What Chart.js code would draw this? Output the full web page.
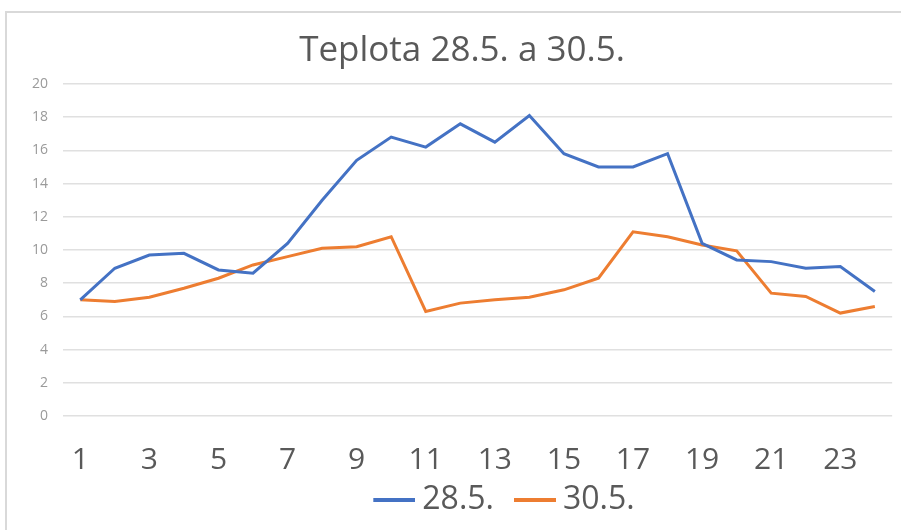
<!DOCTYPE html>
<html>
<head>
<meta charset="utf-8">
<script src="https://cdn.jsdelivr.net/npm/chart.js@4.4.1/dist/chart.umd.min.js"></script>
<style>
  html, body { margin: 0; padding: 0; background: #fff; }
  #wrap { position: relative; width: 901px; height: 530px; overflow: hidden; }
  #frame {
    position: absolute; left: 5px; top: 11px; width: 920px; height: 560px;
    border-top: 2px solid #d9d9d9; border-left: 2px solid #d9d9d9;
  }
  canvas { position: absolute; left: 0; top: 0; }
</style>
</head>
<body>
<div id="wrap">
  <div id="frame"></div>
  <canvas id="teplotaChart" width="901" height="530"></canvas>
</div>
<script>
  // hodiny 1..24
  const hours = [
    "1", "2", "3", "4", "5", "6", "7", "8", "9", "10", "11", "12",
    "13", "14", "15", "16", "17", "18", "19", "20", "21", "22", "23", "24",
  ];

  // teplota 28.5.
  const temp285 = [
    7.0, 8.9, 9.7, 9.8, 8.8, 8.6, 10.4, 13.0, 15.4, 16.8, 16.2, 17.6,
    16.5, 18.1, 15.8, 15.0, 15.0, 15.8, 10.4, 9.4, 9.3, 8.9, 9.0, 7.5,
  ];

  // teplota 30.5.
  const temp305 = [
    7.0, 6.9, 7.15, 7.7, 8.3, 9.1, 9.6, 10.1, 10.2, 10.8, 6.3, 6.8,
    7.0, 7.15, 7.6, 8.3, 11.1, 10.8, 10.3, 9.95, 7.4, 7.2, 6.2, 6.6,
  ];

  const yTicks = [0, 2, 4, 6, 8, 10, 12, 14, 16, 18, 20];

  const ctx = document.getElementById("teplotaChart").getContext("2d");
  const font = "'Open Sans', 'Liberation Sans', sans-serif";

  // legend marker: 42px line, offset inside a wider transparent image
  // so the gap to the text stays small and the gap between items wide
  function legendLine(color) {
    const c = document.createElement("canvas");
    c.width = 65;
    c.height = 4;
    const g = c.getContext("2d");
    g.fillStyle = color;
    g.fillRect(23, 0, 42, 4);
    return c;
  }

  // nudge title + legend to where the original has them
  const placeBlocks = {
    id: "placeBlocks",
    afterLayout(chart) {
      const leg = chart.legend;
      leg.top -= 4;
      leg.bottom -= 4;
      leg.left += 50;
      leg.right += 50;
      chart.titleBlock.left += 15;
      chart.titleBlock.right += 15;
    },
  };

  new Chart(ctx, {
    type: "line",
    data: {
      labels: hours,
      datasets: [
        {
          label: "28.5.",
          data: temp285,
          borderColor: "#4472C4",
          backgroundColor: "#4472C4",
          borderWidth: 3,
          pointRadius: 0,
          pointStyle: legendLine("#4472C4"),
          tension: 0,
        },
        {
          label: "30.5.",
          data: temp305,
          borderColor: "#ED7D31",
          backgroundColor: "#ED7D31",
          borderWidth: 3,
          pointRadius: 0,
          pointStyle: legendLine("#ED7D31"),
          tension: 0,
        },
      ],
    },
    options: {
      responsive: false,
      animation: false,
      layout: { padding: { left: 0, right: 7, top: 14, bottom: 0 } },
      scales: {
        x: {
          offset: true,
          afterFit: function (scale) {
            scale.height = 66; // plot bottom at y = 416
          },
          grid: { display: false, drawTicks: false },
          border: { display: false },
          ticks: {
            autoSkip: false,
            maxRotation: 0,
            padding: 26,
            color: "#595959",
            font: { family: font, size: 30 },
            callback: function (value, index) {
              return index % 2 === 0 ? hours[index] : "";
            },
          },
        },
        y: {
          min: 0,
          max: 20,
          afterFit: function (scale) {
            scale.width = 63; // plot starts at x = 63
          },
          afterBuildTicks: function (scale) {
            scale.ticks = yTicks.map((v) => ({ value: v }));
          },
          grid: { color: "#e0e0e0", lineWidth: 1.5, drawTicks: false },
          border: { display: false },
          ticks: {
            padding: 15,
            color: "#9a9a9a",
            font: { family: font, size: 14 },
          },
        },
      },
      plugins: {
        title: {
          display: true,
          text: "Teplota 28.5. a 30.5.",
          color: "#595959",
          font: { family: font, size: 35, weight: "normal" },
          padding: { top: 16, bottom: 12 },
        },
        legend: {
          position: "bottom",
          labels: {
            usePointStyle: true,
            pointStyleWidth: 47,
            padding: 6,
            color: "#595959",
            font: { family: font, size: 32 },
          },
        },
        tooltip: { enabled: false },
      },
    },
    plugins: [placeBlocks],
  });
</script>
</body>
</html>
